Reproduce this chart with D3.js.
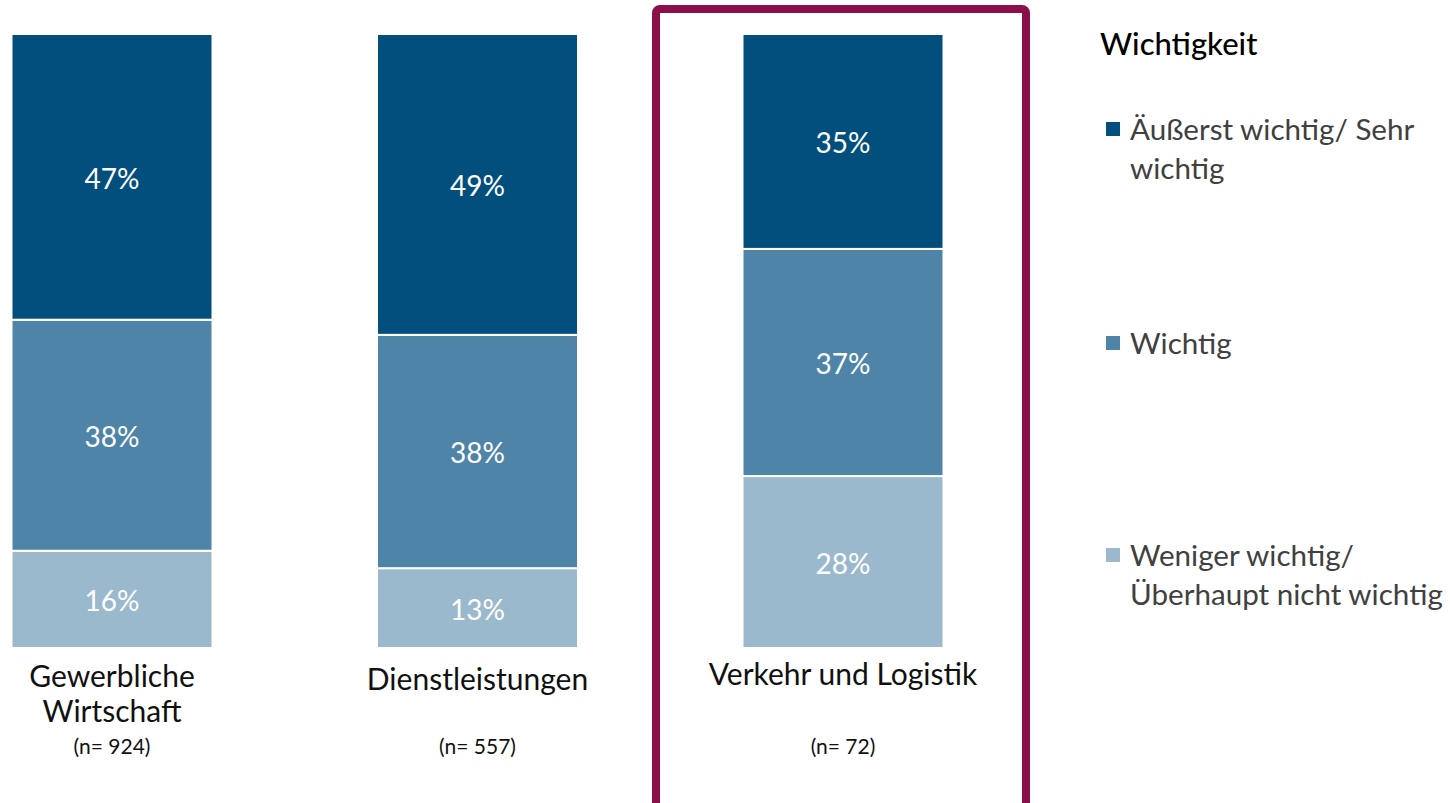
<!DOCTYPE html>
<html>
<head>
<meta charset="utf-8">
<script src="https://cdn.jsdelivr.net/npm/d3@7"></script>
<style>
  body { margin: 0; background: #fff; }
  svg { display: block; font-family: Lato, "Noto Sans", sans-serif; }
</style>
</head>
<body>
<div id="chart"></div>
<script>
// data
var categories = ["Gewerbliche Wirtschaft", "Dienstleistungen", "Verkehr und Logistik"];
var categoryLines = [["Gewerbliche", "Wirtschaft"], ["Dienstleistungen"], ["Verkehr und Logistik"]];
var sampleSizes = ["(n= 924)", "(n= 557)", "(n= 72)"];
var seriesNames = ["Weniger wichtig/ Überhaupt nicht wichtig", "Wichtig", "Äußerst wichtig/ Sehr wichtig"];
var lowValues = [16, 13, 28];
var midValues = [38, 38, 37];
var highValues = [47, 49, 35];
var legendLines = [["Äußerst wichtig/ Sehr", "wichtig"], ["Wichtig"], ["Weniger wichtig/", "Überhaupt nicht wichtig"]];

var width = 1450, height = 803;
var colors = ["#9ab9cc", "#4e84a8", "#024f7e"];

var svg = d3.select("#chart").append("svg")
  .attr("width", width)
  .attr("height", height);

// build table for the stack
var rows = categories.map(function (c, i) {
  return { cat: c, low: lowValues[i], mid: midValues[i], high: highValues[i] };
});
var keys = ["low", "mid", "high"];

var stack = d3.stack().keys(keys).offset(d3.stackOffsetExpand);
var layers = stack(rows);

var x = d3.scalePoint().domain(categories).range([112, 843]);
var barWidth = 201;
var y = d3.scaleLinear().domain([0, 1]).range([648, 34]);
var color = d3.scaleOrdinal().domain(keys).range(colors);

// highlight frame around the last category
svg.append("rect")
  .attr("x", x(categories[2]) - 187)
  .attr("y", 9)
  .attr("width", 370)
  .attr("height", 800)
  .attr("rx", 4)
  .attr("fill", "none")
  .attr("stroke", "#8b0f48")
  .attr("stroke-width", 8);

// segments
var layer = svg.selectAll(".layer")
  .data(layers)
  .enter().append("g")
  .attr("class", "layer")
  .attr("fill", function (d) { return color(d.key); });

layer.selectAll("rect")
  .data(function (d) { return d; })
  .enter().append("rect")
  .attr("x", function (d) { return x(d.data.cat) - barWidth / 2; })
  .attr("y", function (d) { return y(d[1]); })
  .attr("width", barWidth)
  .attr("height", function (d) { return y(d[0]) - y(d[1]); })
  .attr("stroke", "#fff")
  .attr("stroke-width", 2);

// percentage labels
layers.forEach(function (l) {
  svg.selectAll(null)
    .data(l)
    .enter().append("text")
    .attr("x", function (d) { return x(d.data.cat); })
    .attr("y", function (d) { return (y(d[0]) + y(d[1])) / 2; })
    .attr("dy", "0.42em")
    .attr("text-anchor", "middle")
    .attr("fill", "#fff")
    .style("font-size", "28px")
    .text(function (d) { return d.data[l.key] + "%"; });
});

// category labels
var catBase = [687, 690, 685];
categories.forEach(function (c, i) {
  var t = svg.append("text")
    .attr("x", x(c))
    .attr("y", catBase[i])
    .attr("text-anchor", "middle")
    .attr("fill", "#111")
    .style("font-size", "30px");
  categoryLines[i].forEach(function (line, j) {
    t.append("tspan")
      .attr("x", x(c))
      .attr("dy", j === 0 ? 0 : 35)
      .text(line);
  });
  svg.append("text")
    .attr("x", x(c))
    .attr("y", 754)
    .attr("text-anchor", "middle")
    .attr("fill", "#111")
    .style("font-size", "21px")
    .text(sampleSizes[i]);
});

// legend
svg.append("text")
  .attr("x", 1100)
  .attr("y", 55)
  .attr("fill", "#000")
  .style("font-size", "31px")
  .style("font-weight", "500")
  .text("Wichtigkeit");

var legendKeys = ["high", "mid", "low"];
var legendBase = [140, 354, 566];
var legend = svg.selectAll(".legend")
  .data(legendKeys)
  .enter().append("g")
  .attr("class", "legend")
  .attr("transform", function (d, i) { return "translate(1106," + legendBase[i] + ")"; });

legend.append("rect")
  .attr("x", 0)
  .attr("y", -18)
  .attr("width", 14)
  .attr("height", 14)
  .attr("fill", function (d) { return color(d); });

legend.append("text")
  .attr("fill", "#404040")
  .style("font-size", "29.6px")
  .each(function (d, i) {
    var t = d3.select(this);
    legendLines[i].forEach(function (line, j) {
      t.append("tspan")
        .attr("x", 24)
        .attr("dy", j === 0 ? 0 : 39)
        .text(line);
    });
  });
</script>
</body>
</html>
